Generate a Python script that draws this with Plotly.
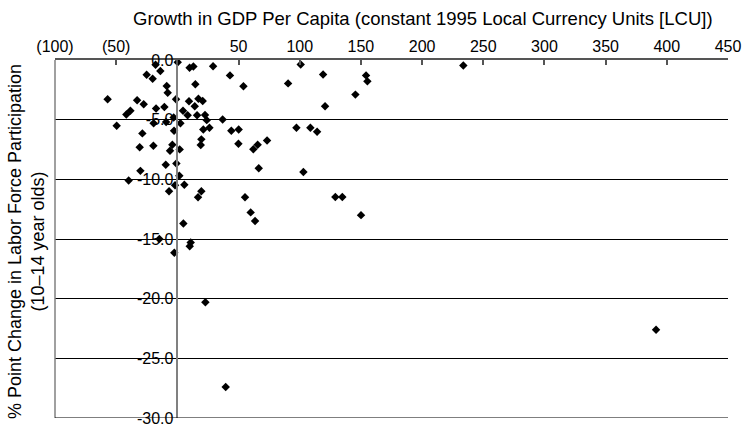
import plotly.graph_objects as go

# Growth in GDP per capita (%) and point change in child labour participation
gdp_growth = [
    -17.8, -13.9, -25.1, -20.2, -8.7, -7.9, -57.0, -32.9, -27.5, -1.1,
    -17.4, -10.6, -38.4, -41.7, -3.0, -19.4, -49.6, -9.2, -2.7, -28.6,
    -30.8, -19.6, -4.1, -6.0, -30.2, -39.8, -9.5, -0.8, -1.9, -6.8,
    -14.7, -2.5,
    0.3, 10.0, 13.1, 29.2, 43.0, 54.0, 14.7, 9.5, 17.2, 20.7,
    14.2, 4.6, 8.4, 16.1, 22.6, 24.0, 37.0, 2.5, 21.2, 26.2,
    44.1, 50.1, 19.6, 19.1, 49.9, 62.1, 65.6, 66.5, 1.9, 1.6,
    5.7, 16.9, 19.6, 55.3, 59.9, 63.5, 4.9, 10.9, 10.1, 22.9,
    39.5, 73.3,
    100.8, 119.1, 90.5, 145.5, 120.7, 154.2, 155.3, 97.3, 108.7, 114.2,
    103.0, 129.1, 134.8, 150.1, 233.7, 391.2,
]
lfp_change = [
    -0.40, -0.93, -1.23, -1.57, -2.18, -2.74, -3.29, -3.38, -3.71, -3.29,
    -4.07, -3.93, -4.26, -4.57, -4.82, -5.30, -5.51, -5.20, -5.93, -6.15,
    -7.32, -7.18, -7.10, -7.60, -9.29, -10.10, -8.77, -8.68, -10.50, -11.00,
    -15.00, -16.15,
    -0.18, -0.65, -0.54, -0.52, -1.29, -2.20, -2.04, -3.46, -3.24, -3.43,
    -3.88, -4.26, -4.63, -4.63, -4.60, -5.04, -4.99, -5.30, -5.82, -5.68,
    -5.93, -5.82, -6.65, -7.13, -7.01, -7.48, -7.10, -9.07, -7.49, -9.70,
    -10.46, -11.50, -11.00, -11.50, -12.77, -13.50, -13.70, -15.30, -15.60, -20.30,
    -27.40, -6.74,
    -0.38, -1.21, -1.96, -2.90, -3.88, -1.29, -1.79, -5.68, -5.68, -6.01,
    -9.38, -11.48, -11.48, -13.00, -0.46, -22.60,
]

x_ticks = [-100, -50, 0, 50, 100, 150, 200, 250, 300, 350, 400, 450]
x_tick_text = ["(100)", "(50)", "", "50", "100", "150", "200", "250",
               "300", "350", "400", "450"]
y_ticks = [0, -5, -10, -15, -20, -25, -30]
y_tick_text = ["0.0", "-5.0", "-10.0", "-15.0", "-20.0", "-25.0", "-30.0"]

x_range = [-100, 450]
y_range = [-30, 0]

FONT = "Liberation Sans, Arial, Helvetica, sans-serif"

fig = go.Figure()
fig.add_trace(go.Scatter(
    x=gdp_growth, y=lfp_change, mode="markers",
    marker=dict(symbol="diamond", size=6.5, color="black"),
    showlegend=False, cliponaxis=False,
))

# y axis crosses the x axis at zero growth
y_cross = (0 - x_range[0]) / (x_range[1] - x_range[0])

fig.update_layout(
    width=742, height=426,
    margin=dict(l=55, r=14, t=60, b=8),
    paper_bgcolor="white", plot_bgcolor="white",
    font=dict(family=FONT, size=16, color="black"),
    xaxis=dict(
        side="top", range=x_range, tickvals=x_ticks, ticktext=x_tick_text,
        showline=True, linecolor="#555555", linewidth=1.5,
        ticks="inside", ticklen=5, tickcolor="#555555", tickwidth=1.5,
        showgrid=False, zeroline=False, tickfont=dict(size=16),
        ticklabeloverflow="allow", automargin=False,
    ),
    yaxis=dict(
        range=y_range, tickvals=y_ticks, ticktext=y_tick_text,
        anchor="free", position=y_cross,
        showline=True, linecolor="#808080", linewidth=1.5,
        ticks="", showgrid=True, gridcolor="black", gridwidth=1.2,
        zeroline=False, tickfont=dict(size=16),
        ticklabeloverflow="allow", automargin=False,
    ),
    shapes=[
        dict(type="line", xref="paper", yref="paper", x0=0, x1=0, y0=0, y1=1,
             line=dict(color="#808080", width=1.5)),
        dict(type="line", xref="paper", yref="y", x0=0, x1=1, y0=-30, y1=-30,
             line=dict(color="black", width=1.2)),
    ],
    annotations=[
        dict(text="Growth in GDP Per Capita (constant 1995 Local Currency Units [LCU])",
             xref="paper", yref="paper", x=0.547, y=1.117,
             xanchor="center", yanchor="middle", showarrow=False,
             font=dict(size=18.5)),
        dict(text="% Point Change in Labor Force Participation<br>(10–14 year olds)",
             xref="paper", yref="paper", x=-0.043, y=0.4916, textangle=-90,
             xanchor="center", yanchor="middle", showarrow=False,
             font=dict(size=18)),
    ],
)

fig.write_html("out.html")
